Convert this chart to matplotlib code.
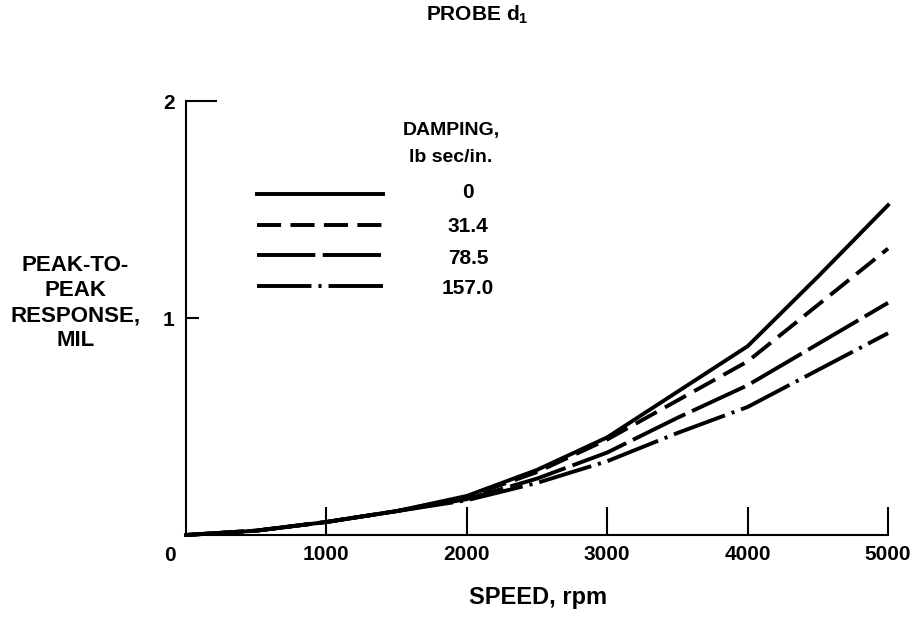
import matplotlib
matplotlib.use('Agg')
import matplotlib.pyplot as plt

# fonts: narrow bold like the scanned report (falls back if narrow is missing)
plt.rcParams['font.family'] = ['Liberation Sans Narrow', 'DejaVu Sans Condensed', 'Liberation Sans', 'DejaVu Sans']
plt.rcParams['font.weight'] = 'bold'

# DATA
speed = [0, 500, 1000, 1500, 2000, 2500, 3000, 3500, 4000, 4500, 5000]
resp_0 = [0, 0.02, 0.06, 0.11, 0.18, 0.30, 0.45, 0.66, 0.87, 1.19, 1.52]
resp_31 = [0, 0.02, 0.06, 0.11, 0.175, 0.29, 0.44, 0.62, 0.80, 1.06, 1.32]
resp_78 = [0, 0.02, 0.06, 0.11, 0.165, 0.26, 0.38, 0.54, 0.69, 0.88, 1.07]
resp_157 = [0, 0.02, 0.06, 0.11, 0.16, 0.24, 0.34, 0.47, 0.59, 0.76, 0.93]
damping = ['0', '31.4', '78.5', '157.0']
x_ticks = [1000, 2000, 3000, 4000, 5000]
y_ticks = [1, 2]

styles = ['-', (0, (6.2, 2.4)), (0, (15, 1.9)), (0, (14, 1.8, 0.8, 1.8))]
series = [resp_0, resp_31, resp_78, resp_157]

fig = plt.figure(figsize=(9.17, 6.19), dpi=100)
ax = fig.add_axes([0.2028, 0.1357, 0.7656, 0.7011])

lines = []
for vals, ls in zip(series, styles):
    ln, = ax.plot(speed, vals, color='black', lw=2.8, linestyle=ls,
                  dash_capstyle='butt', clip_on=False)
    lines.append(ln)

ax.set_xlim(0, 5000)
ax.set_ylim(0, 2)
ax.spines['top'].set_visible(False)
ax.spines['right'].set_visible(False)
ax.spines['left'].set_linewidth(1.5)
ax.spines['bottom'].set_linewidth(1.5)

ax.set_xticks(x_ticks)
ax.set_xticklabels([str(t) for t in x_ticks])
ax.set_yticks(y_ticks)
ax.set_yticklabels([str(t) for t in y_ticks])
ax.tick_params(axis='x', direction='in', length=20, width=1.5, pad=7, labelsize=15)
ax.tick_params(axis='y', direction='in', length=9, width=1.5, pad=8, labelsize=15)
# top tick is drawn longer in the original
ax.yaxis.get_major_ticks()[1].tick1line.set_markersize(22)

ax.annotate('0', xy=(0, 0), xytext=(-11.5, -15), textcoords='offset points',
            ha='center', va='center', fontsize=15, fontweight='bold')

fig.text(0.521, 0.976, r'PROBE d$_\mathregular{1}$', ha='center', va='center',
         fontsize=15, fontweight='bold')
fig.text(0.082, 0.51, 'PEAK-TO-\nPEAK\nRESPONSE,\nMIL', ha='center', va='center',
         multialignment='center', fontsize=16, fontweight='bold', linespacing=1.25)
fig.text(0.587, 0.034, 'SPEED, rpm', ha='center', va='center',
         fontsize=17, fontweight='bold')

# legend: keys from the plotted lines, values written centred beside them
leg = ax.legend(lines, ['', '', '', ''], loc='upper left',
                bbox_to_anchor=(257 / 917, 1 - 186 / 619),
                bbox_transform=fig.transFigure, frameon=False, fontsize=16,
                borderpad=0, borderaxespad=0, handlelength=5.67,
                handletextpad=0, labelspacing=0.43)
fig.text(451 / 917, 1 - 131 / 619, 'DAMPING,', ha='center', va='center',
         fontsize=14, fontweight='bold')
fig.text(451 / 917, 1 - 158 / 619, 'lb sec/in.', ha='center', va='center',
         fontsize=14, fontweight='bold')
row_y = [192, 226, 258, 288]
for lab, yy in zip(damping, row_y):
    fig.text(468 / 917, 1 - yy / 619, lab, ha='center', va='center',
             fontsize=15, fontweight='bold')

fig.savefig('out.png', dpi=100)
